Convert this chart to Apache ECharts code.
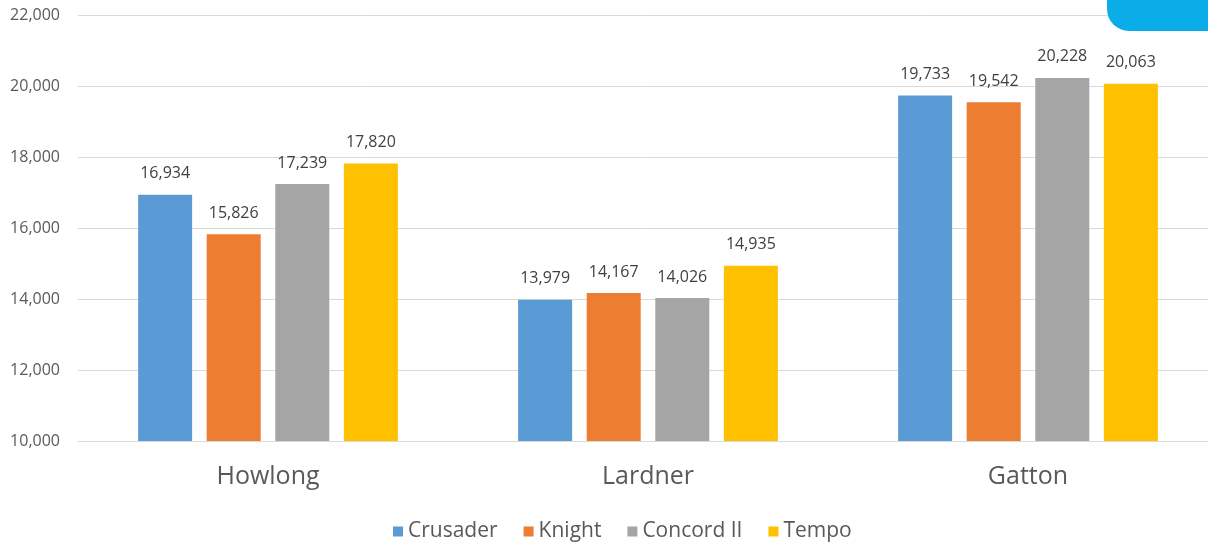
<!DOCTYPE html>
<html>
<head>
<meta charset="utf-8">
<script src="https://cdn.jsdelivr.net/npm/echarts@6/dist/echarts.min.js"></script>
<style>html,body{margin:0;padding:0;background:#fff}#c{width:1208px;height:545px}</style>
</head>
<body>
<div id="c"></div>
<script>
const categories = ['Howlong', 'Lardner', 'Gatton'];
const seriesNames = ['Crusader', 'Knight', 'Concord II', 'Tempo'];
const crusader = [16934, 13979, 19733];
const knight = [15826, 14167, 19542];
const concord = [17239, 14026, 20228];
const tempo = [17820, 14935, 20063];
const colors = ['#5b9bd5', '#ed7d31', '#a5a5a5', '#ffc000'];
const values = [crusader, knight, concord, tempo];
const font = '"Open Sans", "Noto Sans", sans-serif';

const chart = echarts.init(document.getElementById('c'), null, {renderer: 'canvas'});
chart.setOption({
  animation: false,
  textStyle: {fontFamily: font},
  graphic: [{
    type: 'rect', left: 1107, top: -30, z: 100,
    shape: {width: 130, height: 61, r: 22},
    style: {fill: '#0aade8'}
  }],
  legend: {
    bottom: -2, left: 388,
    itemWidth: 10, itemHeight: 10, itemGap: 26,
    icon: 'rect',
    textStyle: {fontSize: 21, color: '#595959', fontFamily: font},
    data: seriesNames
  },
  grid: {left: 78, top: 15, bottom: 104, width: 1140, containLabel: false, outerBoundsMode: 'none'},
  xAxis: {
    type: 'category', data: categories,
    axisLine: {show: true, lineStyle: {color: '#d9d9d9', width: 1}},
    axisTick: {show: false},
    axisLabel: {fontSize: 25, color: '#595959', margin: 23, fontFamily: font}
  },
  yAxis: {
    type: 'value', min: 10000, max: 22000, interval: 2000,
    axisLine: {show: false}, axisTick: {show: false},
    splitLine: {lineStyle: {color: '#d9d9d9', width: 1}},
    axisLabel: {fontSize: 16, color: '#595959', margin: 18, fontFamily: font,
      formatter: v => v.toLocaleString('en-US')}
  },
  series: seriesNames.map((n, i) => ({
    name: n, type: 'bar', data: values[i],
    barWidth: 54, barGap: '27%', barCategoryGap: '31.7%',
    itemStyle: {color: colors[i]},
    label: {show: true, position: 'top', distance: 13, fontSize: 16, color: '#404040', fontFamily: font,
      formatter: p => p.value.toLocaleString('en-US')}
  }))
});
</script>
</body>
</html>
